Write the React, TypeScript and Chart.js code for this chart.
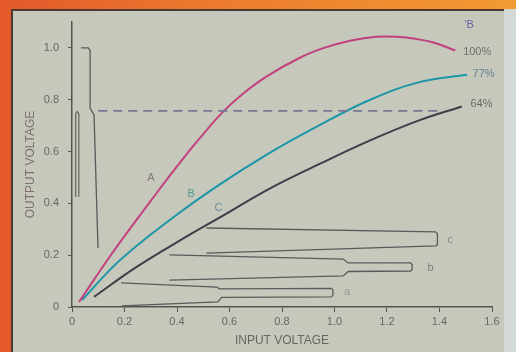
import React, { useEffect, useRef } from "react";
import { Chart, registerables } from "chart.js";

Chart.register(...registerables);

// Curve A (100%)
const curveAX = [0.027, 0.141, 0.245, 0.321, 0.371, 0.44, 0.486, 0.574, 0.65, 0.742, 0.868, 0.96, 1.059, 1.16, 1.25, 1.3, 1.38, 1.46];
const curveAY = [0.02, 0.19, 0.335, 0.438, 0.505, 0.594, 0.651, 0.752, 0.822, 0.89, 0.962, 1.0, 1.028, 1.043, 1.042, 1.036, 1.02, 0.99];
// Curve B (77%)
const curveBX = [0.038, 0.18, 0.371, 0.543, 0.753, 0.945, 1.136, 1.327, 1.505];
const curveBY = [0.027, 0.178, 0.335, 0.46, 0.595, 0.703, 0.8, 0.869, 0.896];
// Curve C (64%)
const curveCX = [0.084, 0.245, 0.447, 0.562, 0.753, 0.945, 1.136, 1.327, 1.485];
const curveCY = [0.039, 0.154, 0.278, 0.345, 0.457, 0.553, 0.643, 0.722, 0.774];
// Dashed reference level
const dashX = [0.1, 1.4];
const dashY = [0.757, 0.757];
// Pulse outlines
const pulseCX = [0.512, 1.385, 1.392, 1.392, 1.385, 0.512];
const pulseCY = [0.305, 0.29, 0.283, 0.24, 0.236, 0.208];
const pulseBX = [0.371, 1.033, 1.052, 1.29, 1.296, 1.296, 1.29, 1.052, 1.033, 0.371];
const pulseBY = [0.201, 0.185, 0.17, 0.17, 0.163, 0.145, 0.139, 0.137, 0.12, 0.104];
const pulseAX = [0.187, 0.551, 0.562, 0.988, 0.994, 0.994, 0.988, 0.57, 0.555, 0.19];
const pulseAY = [0.093, 0.077, 0.07, 0.072, 0.066, 0.045, 0.039, 0.037, 0.02, 0.004];
const bracketX = [0.034, 0.062, 0.069, 0.069, 0.084, 0.099];
const bracketY = [1.0, 1.0, 0.99, 0.768, 0.741, 0.228];
const stemX = [0.014, 0.014, 0.02, 0.026, 0.026];
const stemY = [0.425, 0.745, 0.755, 0.745, 0.425];

// Text labels
const labelTexts = ["A", "B", "C", "100%", "77%", "64%", "'B", "c", "b", "a"];
const labelX = [0.287, 0.44, 0.543, 1.49, 1.526, 1.518, 1.495, 1.43, 1.354, 1.036];
const labelY = [0.498, 0.436, 0.382, 0.985, 0.9, 0.784, 1.089, 0.259, 0.151, 0.058];
const labelColors = ["#8a7480", "#4e9a92", "#6b8c9c", "#6e6e6e", "#5f8290", "#6a6a6a", "#7060a8", "#8a8a86", "#808080", "#9a9a96"];

const xTicks = [0, 0.2, 0.4, 0.6, 0.8, 1.0, 1.2, 1.4, 1.6];
const yTicks = [0, 0.2, 0.4, 0.6, 0.8, 1.0];

const pts = (xs: number[], ys: number[]) => xs.map((x, i) => ({ x, y: ys[i] }));

const FONT = "'Liberation Sans', Arial, sans-serif";

const labelPlugin = {
  id: "labelPlugin",
  afterDatasetsDraw(chart: any) {
    const { ctx, scales } = chart;
    ctx.save();
    ctx.font = `11px ${FONT}`;
    ctx.textBaseline = "middle";
    ctx.textAlign = "left";
    labelTexts.forEach((t, i) => {
      ctx.fillStyle = labelColors[i];
      ctx.fillText(t, scales.x.getPixelForValue(labelX[i]), scales.y.getPixelForValue(labelY[i]));
    });
    ctx.restore();
  },
};

export default function App() {
  const ref = useRef<HTMLCanvasElement>(null);
  useEffect(() => {
    if (!ref.current) return;
    const lineDs = (data: any, color: string, width: number, extra: any = {}) => ({
      data,
      borderColor: color,
      borderWidth: width,
      pointRadius: 0,
      fill: false,
      ...extra,
    });
    const chart = new Chart(ref.current, {
      type: "line",
      data: {
        datasets: [
          lineDs(pts(pulseCX, pulseCY), "#5a5a5a", 1.3, { tension: 0 }),
          lineDs(pts(pulseBX, pulseBY), "#5a5a5a", 1.3, { tension: 0 }),
          lineDs(pts(pulseAX, pulseAY), "#5a5a5a", 1.3, { tension: 0 }),
          lineDs(pts(bracketX, bracketY), "#5a5a5a", 1.3, { tension: 0 }),
          lineDs(pts(stemX, stemY), "#6a6a6a", 1.3, { tension: 0 }),
          lineDs(pts(dashX, dashY), "#787690", 1.6, { borderDash: [9, 6], tension: 0 }),
          lineDs(pts(curveAX, curveAY), "#c2407e", 2, { tension: 0.4 }),
          lineDs(pts(curveBX, curveBY), "#1a96a6", 2, { tension: 0.4 }),
          lineDs(pts(curveCX, curveCY), "#3c3e48", 2, { tension: 0.4 }),
        ],
      },
      options: {
        animation: false,
        responsive: false,
        layout: { padding: { top: 22, right: 24, left: 0, bottom: 0 } },
        plugins: { legend: { display: false }, tooltip: { enabled: false } },
        scales: {
          x: {
            type: "linear",
            min: 0,
            max: 1.6,
            afterBuildTicks: (s: any) => {
              s.ticks = xTicks.map((v) => ({ value: v }));
            },
            afterFit: (s: any) => {
              s.height = 45;
            },
            ticks: {
              color: "#666",
              font: { family: FONT, size: 11 },
              padding: 3,
              maxRotation: 0,
              callback: (v: any) => (Number(v) === 0 ? "0" : Number(v).toFixed(1)),
            },
            grid: { drawOnChartArea: false, drawTicks: true, tickLength: 5, color: "#555" },
            border: { display: true, color: "#555", width: 1.5 },
            title: {
              display: true,
              text: "INPUT VOLTAGE",
              color: "#666",
              font: { family: FONT, size: 12 },
              padding: { top: 0, bottom: 4 },
            },
          },
          y: {
            type: "linear",
            min: 0,
            max: 1.1,
            afterBuildTicks: (s: any) => {
              s.ticks = yTicks.map((v) => ({ value: v }));
            },
            afterFit: (s: any) => {
              s.width = 72;
            },
            ticks: {
              color: "#666",
              font: { family: FONT, size: 11 },
              padding: 9,
              callback: (v: any) => (Number(v) === 0 ? "0" : Number(v).toFixed(1)),
            },
            grid: { drawOnChartArea: false, drawTicks: true, tickLength: 4, color: "#555" },
            border: { display: true, color: "#5a524c", width: 1.5 },
            title: {
              display: true,
              text: "OUTPUT VOLTAGE",
              color: "#7e6f6a",
              font: { family: FONT, size: 12 },
              padding: { top: 23, bottom: 0 },
            },
          },
        },
      },
      plugins: [labelPlugin],
    });
    return () => chart.destroy();
  }, []);

  return (
    <div
      style={{
        position: "fixed",
        left: 0,
        top: 0,
        width: 516,
        height: 352,
        overflow: "hidden",
        background: "linear-gradient(90deg, #e2582a 0%, #ec7a2e 40%, #f29a32 100%)",
      }}
    >
      <div
        style={{
          position: "absolute",
          left: 504,
          top: 9,
          width: 12,
          height: 343,
          background: "#d3d9d7",
        }}
      />
      <div
        style={{
          position: "absolute",
          left: 11,
          top: 9,
          width: 493,
          height: 343,
          boxSizing: "border-box",
          background: "#c6c8bc",
          borderTop: "2px solid #4a3a30",
          borderLeft: "2px solid #4a3a30",
        }}
      />
      <canvas ref={ref} width={516} height={352} style={{ position: "absolute", left: 0, top: 0 }} />
    </div>
  );
}
